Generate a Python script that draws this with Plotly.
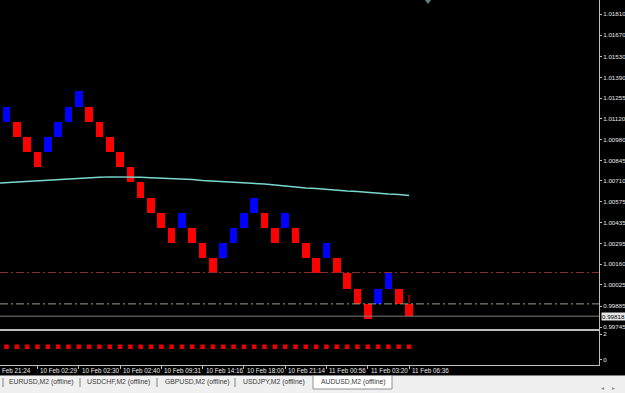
import plotly.graph_objects as go

# ---------------- data ----------------
# Renko bricks (AUDUSD, M2 offline), oldest -> newest
brick_open = [1.0110, 1.0110, 1.0100, 1.0090, 1.0090, 1.0100, 1.0110, 1.0120,
              1.0120, 1.0110, 1.0100, 1.0090, 1.0080, 1.0070, 1.0060, 1.0050,
              1.0040, 1.0040, 1.0040, 1.0030, 1.0020, 1.0020, 1.0030, 1.0040,
              1.0050, 1.0050, 1.0040, 1.0040, 1.0040, 1.0030, 1.0020, 1.0020,
              1.0020, 1.0010, 1.0000, 0.9990, 0.9990, 1.0000, 1.0000, 0.9990]
brick_close = [1.0120, 1.0100, 1.0090, 1.0080, 1.0100, 1.0110, 1.0120, 1.0130,
               1.0110, 1.0100, 1.0090, 1.0080, 1.0070, 1.0060, 1.0050, 1.0040,
               1.0030, 1.0050, 1.0030, 1.0020, 1.0010, 1.0030, 1.0040, 1.0050,
               1.0060, 1.0040, 1.0030, 1.0050, 1.0030, 1.0020, 1.0010, 1.0030,
               1.0010, 1.0000, 0.9990, 0.9980, 1.0000, 1.0010, 0.9990, 0.99818]
last_high = 0.99958

# moving average, bars 0..40 (bar 0 is just off the left edge)
ma_values = [1.00694, 1.00698, 1.00702, 1.00708, 1.00712, 1.00716, 1.00722, 1.00726,
             1.00729, 1.00732, 1.00734, 1.00736, 1.00736, 1.00736, 1.00734, 1.00731,
             1.00729, 1.00726, 1.00722, 1.00719, 1.00712, 1.00709, 1.00706, 1.00703,
             1.00699, 1.00696, 1.00689, 1.00683, 1.00676, 1.00670, 1.00663, 1.00660,
             1.00653, 1.00647, 1.00643, 1.00640, 1.00633, 1.00630, 1.00623, 1.00620,
             1.00614]

# indicator sub-window values
sub_values = [1] * 40

# horizontal levels
level_red = 1.00106
level_green = 0.99899
bid_price = 0.99818

# axis tick labels
price_ticks = [1.01810, 1.01670, 1.01530, 1.01390, 1.01255, 1.01120, 1.00980, 1.00845,
               1.00710, 1.00575, 1.00435, 1.00295, 1.00160, 1.00025, 0.99885, 0.99745]
sub_ticks = [0, 2]
date_bars = [0, 4, 8, 12, 16, 20, 24, 28, 32, 36, 40]
date_labels = ["Feb 21:24", "10 Feb 02:29", "10 Feb 02:30", "10 Feb 02:40", "10 Feb 09:31",
               "10 Feb 14:16", "10 Feb 18:00", "10 Feb 21:14", "11 Feb 00:56",
               "11 Feb 03:20", "11 Feb 06:36"]
tab_labels = ["EURUSD,M2 (offline)", "USDCHF,M2 (offline)", "GBPUSD,M2 (offline)",
              "USDJPY,M2 (offline)", "AUDUSD,M2 (offline)"]

# ---------------- layout constants ----------------
W, H = 625, 393
ML, MR, MT, MB = 0, 26, 0, 28
PW, PH = W - ML - MR, H - MT - MB  # 599 x 365
X_RANGE = [0.37, 58.41]
Y_RANGE = [0.997335, 1.019023]
Y2_RANGE = [-0.431, 2.235]
BLUE, RED = "#0000FF", "#FF0000"
FRAME = "#BEBEBE"
TXT = "#E8E8E8"
FONT = "Liberation Sans"


def px(p):
    return p / PW


def py(p):
    return (PH - p) / PH


n = len(brick_open)
xs = list(range(1, n + 1))
base = [min(o, c) for o, c in zip(brick_open, brick_close)]
size = [abs(c - o) for o, c in zip(brick_open, brick_close)]
colors = [BLUE if c > o else RED for o, c in zip(brick_open, brick_close)]

fig = go.Figure()

fig.add_trace(go.Bar(x=xs, y=size, base=base, width=0.74,
                     marker=dict(color=colors, line=dict(width=0)),
                     xaxis="x2", yaxis="y", hoverinfo="skip"))

fig.add_trace(go.Scatter(x=[n, n], y=[max(brick_open[-1], brick_close[-1]), last_high],
                         mode="lines", line=dict(color=RED, width=1),
                         xaxis="x2", yaxis="y", hoverinfo="skip"))

fig.add_trace(go.Scatter(x=list(range(len(ma_values))), y=ma_values, mode="lines",
                         line=dict(color="#7AD8CE", width=1.4),
                         xaxis="x2", yaxis="y", hoverinfo="skip"))

fig.add_trace(go.Scatter(x=xs, y=sub_values, mode="markers",
                         marker=dict(symbol="square", size=4.5, color="#E80000",
                                     line=dict(width=0)),
                         xaxis="x", yaxis="y2", hoverinfo="skip"))

shapes = [
    dict(type="line", xref="x2 domain", yref="y", x0=0, x1=1, y0=level_red, y1=level_red,
         line=dict(color="#8E2A2A", width=1, dash="8px,3px,2px,3px")),
    dict(type="line", xref="x2 domain", yref="y", x0=0, x1=1, y0=level_green, y1=level_green,
         line=dict(color="#86A286", width=1, dash="8px,3px,2px,3px")),
    dict(type="line", xref="x2 domain", yref="y", x0=0, x1=1, y0=bid_price, y1=bid_price,
         line=dict(color="#7A7A7A", width=1)),
    # chart shift marker at top
    dict(type="path", xref="paper", yref="paper", layer="above",
         path=f"M {px(425)} {py(0)} L {px(431)} {py(0)} L {px(428)} {py(4)} Z",
         fillcolor="#5E8484", line=dict(width=0)),
    # tab strip
    dict(type="rect", xref="paper", yref="paper", x0=px(0), x1=px(W), y0=py(375), y1=py(H),
         fillcolor="#F0F0F0", line=dict(width=0), layer="above"),
    dict(type="line", xref="paper", yref="paper", x0=px(0), x1=px(W), y0=py(375.5), y1=py(375.5),
         line=dict(color="#808080", width=1), layer="above"),
    dict(type="rect", xref="paper", yref="paper", x0=px(313), x1=px(392), y0=py(375.5), y1=py(389),
         fillcolor="#FFFFFF", line=dict(color="#909090", width=1), layer="above"),
]
for sx in [3, 80, 157, 235]:
    shapes.append(dict(type="line", xref="paper", yref="paper", x0=px(sx), x1=px(sx),
                       y0=py(378), y1=py(387), line=dict(color="#808080", width=1),
                       layer="above"))

annotations = []
for b, lab in zip(date_bars, date_labels):
    if b >= X_RANGE[0]:
        annotations.append(dict(x=b, xref="x", y=py(370), yref="paper", text=lab,
                                showarrow=False, xanchor="left", yanchor="middle", xshift=1,
                                font=dict(size=6.3, color=TXT, family=FONT)))
    else:
        annotations.append(dict(x=0, xref="paper", y=py(370), yref="paper", text=lab,
                                showarrow=False, xanchor="left", yanchor="middle", xshift=0,
                                font=dict(size=6.3, color=TXT, family=FONT)))

annotations.append(dict(x=1, xref="paper", y=bid_price, yref="y", text=f"{bid_price:.5f}",
                        showarrow=False, xanchor="left", yanchor="middle", xshift=2,
                        bgcolor="#E6E6E6", borderpad=0,
                        font=dict(size=6.2, color="#000000", family=FONT)))

tab_centers = [41, 118.5, 196.5, 274, 352.5]
for cx, lab in zip(tab_centers, tab_labels):
    annotations.append(dict(x=px(cx), xref="paper", y=py(382), yref="paper", text=lab,
                            showarrow=False, xanchor="center", yanchor="middle",
                            font=dict(size=6.8, color="#3A3A3A", family=FONT)))
for ax_, sym in [(602, "◂"), (613, "▸")]:
    annotations.append(dict(x=px(ax_), xref="paper", y=py(387), yref="paper", text=sym,
                            showarrow=False, xanchor="center", yanchor="middle",
                            font=dict(size=6, color="#909090", family="DejaVu Sans")))

tickfont = dict(size=6.2, color=TXT, family=FONT)

fig.update_layout(
    template="none",
    width=W, height=H,
    margin=dict(l=ML, r=MR, t=MT, b=MB, pad=0),
    paper_bgcolor="#000000", plot_bgcolor="#000000",
    showlegend=False, bargap=0,
    font=dict(family=FONT, color=TXT),
    xaxis=dict(domain=[0, 1], range=X_RANGE, anchor="y2", tickvals=date_bars,
               showticklabels=False, ticks="outside", ticklen=3, tickcolor=FRAME,
               showline=True, linecolor=FRAME, linewidth=1, mirror=True,
               showgrid=False, zeroline=False, automargin=False, fixedrange=True),
    xaxis2=dict(domain=[0, 1], matches="x", anchor="y", showticklabels=False, ticks="",
                showline=True, linecolor=FRAME, linewidth=1, mirror=True,
                showgrid=False, zeroline=False, automargin=False),
    yaxis=dict(domain=[py(329), 1], range=Y_RANGE, side="right", anchor="x2",
               tickvals=price_ticks, ticktext=[f"{v:.5f}" for v in price_ticks],
               ticks="outside", ticklen=2, tickcolor=FRAME, tickfont=tickfont,
               showline=True, linecolor=FRAME, linewidth=1,
               showgrid=False, zeroline=False, automargin=False),
    yaxis2=dict(domain=[0, py(331)], range=Y2_RANGE, side="right", anchor="x",
                tickvals=sub_ticks, ticktext=[str(v) for v in sub_ticks],
                ticks="outside", ticklen=2, tickcolor=FRAME, tickfont=tickfont,
                showline=True, linecolor=FRAME, linewidth=1,
                showgrid=False, zeroline=False, automargin=False),
    shapes=shapes,
    annotations=annotations,
)

fig.write_html("out.html", config={"displayModeBar": False})
